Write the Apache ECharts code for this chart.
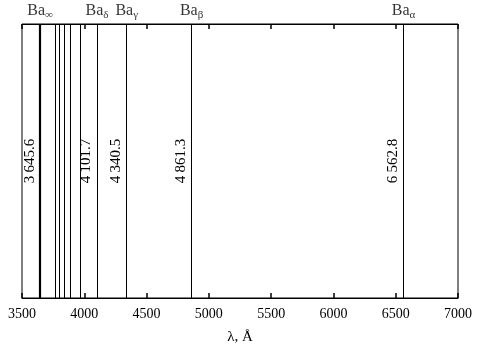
<!DOCTYPE html>
<html>
<head>
  <meta charset="UTF-8">
  <title>Balmer series</title>
  <script src="https://cdn.jsdelivr.net/npm/echarts@6/dist/echarts.min.js"></script>
  <style>
    body { margin: 0; background: #fff; }
    #chart { width: 477px; height: 344px; }
  </style>
</head>
<body>
  <div id="chart"></div>
  <script type="text/javascript">
    // line wavelengths, angstrom
    var lineWavelengths = [6562.8, 4861.3, 4340.5, 4101.7, 3970.1, 3889.0, 3835.4, 3797.9, 3770.6, 3645.6];
    // lines with a value printed next to them
    var labelledLines = [6562.8, 4861.3, 4340.5, 4101.7, 3645.6];
    var labelTexts = ['6\u2009562.8', '4\u2009861.3', '4\u2009340.5', '4\u2009101.7', '3\u2009645.6'];
    // names above the frame
    var nameLines = [3645.6, 4101.7, 4340.5, 4861.3, 6562.8];
    var nameSubs = ['\u221e', '\u03b4', '\u03b3', '\u03b2', '\u03b1'];
    var xTicks = { min: 3500, max: 7000, step: 500 };

    var font = '"Liberation Serif", "DejaVu Serif", serif';
    var chart = echarts.init(document.getElementById('chart'));

    var markData = lineWavelengths.map(function (w) {
      var idx = labelledLines.indexOf(w);
      return {
        xAxis: w,
        lineStyle: { width: w === 3645.6 ? 2.2 : 1, color: '#000', type: 'solid' },
        label: {
          show: idx >= 0,
          position: 'middle',
          formatter: idx >= 0 ? labelTexts[idx] : '',
          distance: 3,
          color: '#000',
          fontFamily: font,
          fontSize: 15
        }
      };
    });

    var option = {
      animation: false,
      grid: {
        left: 22, right: 19, top: 24, bottom: 46,
        outerBoundsMode: 'none',
        show: true, borderColor: '#000', borderWidth: 1, backgroundColor: 'transparent'
      },
      xAxis: [{
        type: 'value',
        min: xTicks.min, max: xTicks.max, interval: xTicks.step,
        position: 'bottom',
        name: '\u03bb, \u00c5',
        nameLocation: 'middle',
        nameGap: 32,
        nameTextStyle: { color: '#000', fontFamily: font, fontSize: 15 },
        axisLine: { show: true, onZero: false, lineStyle: { color: '#000', width: 1 } },
        axisTick: { show: true, inside: true, length: 5, lineStyle: { color: '#000', width: 1.5 } },
        axisLabel: {
          color: '#000', fontFamily: font, fontSize: 14, margin: 9,
          formatter: function (v) { return String(v); }
        },
        splitLine: { show: false }
      }, {
        type: 'value',
        min: xTicks.min, max: xTicks.max, interval: xTicks.step,
        position: 'top',
        axisLine: { show: true, onZero: false, lineStyle: { color: '#000', width: 1 } },
        axisTick: { show: true, inside: true, length: 5, lineStyle: { color: '#000', width: 1.5 } },
        axisLabel: { show: false },
        splitLine: { show: false }
      }],
      yAxis: {
        type: 'value', min: 0, max: 1, show: false
      },
      series: [{
        type: 'scatter',
        xAxisIndex: 0,
        data: [],
        silent: true,
        markLine: {
          silent: true,
          symbol: ['none', 'none'],
          animation: false,
          data: markData
        }
      }, {
        type: 'scatter',
        xAxisIndex: 1,
        symbolSize: 0,
        silent: true,
        clip: false,
        data: nameLines.map(function (w, i) { return { value: [w, 1], sub: nameSubs[i] }; }),
        label: {
          show: true,
          position: 'top',
          distance: 3,
          formatter: function (p) { return '{b|Ba}{s|' + p.data.sub + '}'; },
          color: '#000',
          fontFamily: font,
          fontSize: 16,
          rich: {
            b: { fontFamily: font, fontSize: 16, color: '#000' },
            s: { fontFamily: font, fontSize: 11, color: '#000', padding: [9, 0, 0, 0] }
          }
        }
      }]
    };
    chart.setOption(option);
  </script>
</body>
</html>
